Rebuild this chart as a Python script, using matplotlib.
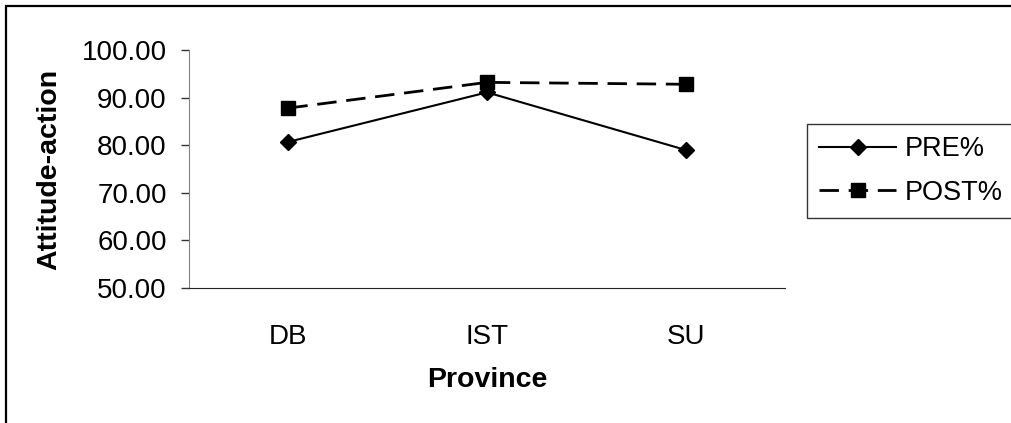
import matplotlib
matplotlib.use("Agg")
from matplotlib import pyplot as plt
from matplotlib.patches import Rectangle

provinces = ["DB", "IST", "SU"]
pre = [80.7, 91.1, 79.0]
post = [87.8, 93.2, 92.8]
yticks = [50, 60, 70, 80, 90, 100]

plt.rcParams['font.family'] = ['Liberation Sans', 'DejaVu Sans']

W, H = 1011, 423
fig = plt.figure(figsize=(W / 100, H / 100), dpi=100)
ax = fig.add_axes([189 / W, 1 - 288 / H, (785 - 189) / W, (288 - 50) / H])

x = list(range(len(provinces)))
ax.plot(x, pre, color='black', lw=1.5, marker='D', markersize=8, label='PRE%')
ax.plot(x, post, color='black', lw=2, ls=(0, (7, 3.5)), marker='s', markersize=10,
        label='POST%')

ax.set_xlim(-0.5, 2.5)
ax.set_ylim(50, 100)
ax.set_yticks(yticks)
ax.set_yticklabels(["%.2f" % v for v in yticks])
ax.set_xticks(x)
ax.set_xticklabels(provinces)

for s in ['top', 'right']:
    ax.spines[s].set_visible(False)
ax.spines['left'].set_color('#808080')
ax.spines['bottom'].set_color('#222222')
ax.tick_params(axis='y', length=6, width=1, color='#333333', pad=10, labelsize=20)
ax.tick_params(axis='x', length=0, pad=26, labelsize=20)

ax.set_ylabel('Attitude-action', fontsize=20.5, fontweight='bold', labelpad=14)
ax.set_xlabel('Province', fontsize=20.5, fontweight='bold', labelpad=12)

leg = fig.legend(loc='upper left', bbox_to_anchor=(807 / W, 1 - 124 / H),
                 borderaxespad=0, fontsize=19.5, handlelength=2.85, fancybox=False,
                 frameon=True, borderpad=0.45, labelspacing=0.65, handletextpad=0.3)
leg.get_frame().set_edgecolor('black')
leg.get_frame().set_linewidth(1)

# outer chart border
fig.patches.append(Rectangle((6 / W, -0.2), 1.2, 1.2 - 6 / H, transform=fig.transFigure,
                             fill=False, edgecolor='black', lw=1.6))

fig.savefig('out.png', dpi=100)
